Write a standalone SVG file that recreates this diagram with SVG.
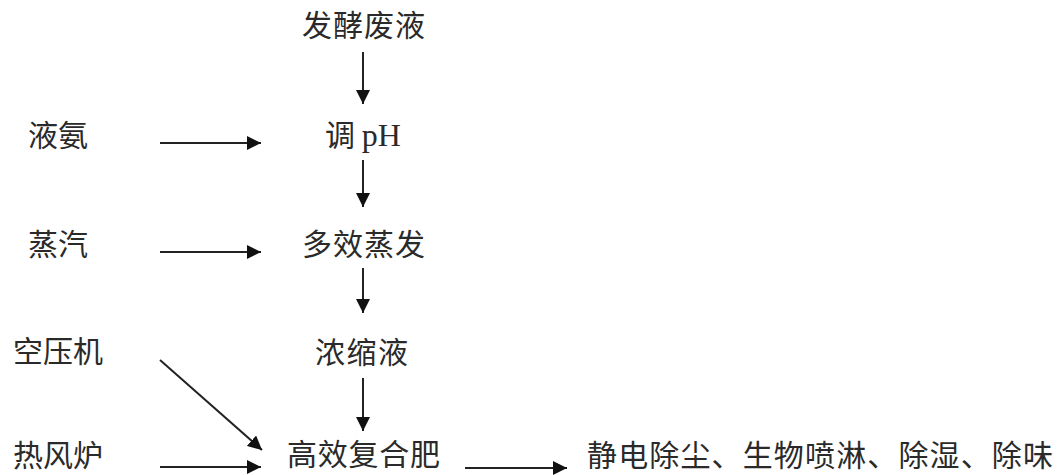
<svg xmlns="http://www.w3.org/2000/svg" width="1058" height="475" viewBox="0 0 1058 475">
<style>
text{font-family:"Noto Sans CJK SC","Liberation Serif",serif;font-size:30px;fill:#2a2a2a;}
.lat{font-family:"Liberation Serif",serif;}
.c{stroke:#222;stroke-width:2;fill:none;marker-end:url(#ah);}
</style>
<defs>
<marker id="ah" markerUnits="userSpaceOnUse" markerWidth="16" markerHeight="14" refX="14" refY="7" orient="auto">
<path d="M0,0 L14,7 L0,14 Z" fill="#111"/>
</marker>
</defs>
<rect width="1058" height="475" fill="#fff"/>
<g id="n-fajiao"><text x="302" y="36" textLength="123">发酵废液</text></g>
<g id="n-tiaoph"><text x="325" y="146">调 <tspan class="lat" font-size="32">pH</tspan></text></g>
<g id="n-duoxiao"><text x="302" y="255" textLength="123">多效蒸发</text></g>
<g id="n-nongsuo"><text x="315" y="363" textLength="93">浓缩液</text></g>
<g id="n-gaoxiao"><text x="287" y="465" textLength="153">高效复合肥</text></g>
<g id="n-yean"><text x="28" y="146" textLength="60">液氨</text></g>
<g id="n-zhengqi"><text x="28" y="255" textLength="60">蒸汽</text></g>
<g id="n-kongya"><text x="13" y="362" textLength="90">空压机</text></g>
<g id="n-refeng"><text x="13" y="466" textLength="90">热风炉</text></g>
<g id="n-out"><text x="587" y="466" textLength="466">静电除尘、生物喷淋、除湿、除味</text></g>
<g id="connectors">
<line class="c" x1="363" y1="52" x2="363" y2="104"/>
<line class="c" x1="363" y1="160" x2="363" y2="207"/>
<line class="c" x1="363" y1="268" x2="363" y2="313"/>
<line class="c" x1="363" y1="378" x2="363" y2="431"/>
<line class="c" x1="160" y1="143" x2="261" y2="143"/>
<line class="c" x1="160" y1="252" x2="261" y2="252"/>
<line class="c" x1="160" y1="360" x2="262" y2="450"/>
<line class="c" x1="160" y1="467" x2="261" y2="467"/>
<line class="c" x1="465" y1="468" x2="567" y2="468"/>
</g>
</svg>
